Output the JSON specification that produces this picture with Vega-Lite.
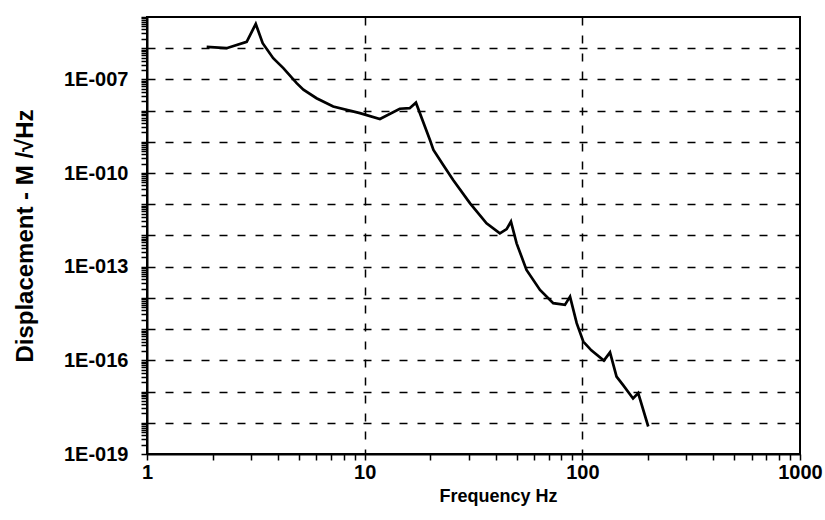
{
  "$schema": "https://vega.github.io/schema/vega-lite/v6.json",
  "width": 653,
  "height": 437,
  "autosize": "none",
  "padding": {"left": 147, "top": 17, "right": 25, "bottom": 66},
  "background": "white",
  "config": {
    "view": {"stroke": "black", "strokeWidth": 2},
    "font": "Liberation Sans"
  },
  "data": {"values": [
    {"f": 1.88, "d": 1.1e-6},
    {"f": 2.32, "d": 1.0e-6},
    {"f": 2.87, "d": 1.6e-6},
    {"f": 3.16, "d": 6.0e-6},
    {"f": 3.40, "d": 1.45e-6},
    {"f": 3.80, "d": 4.8e-7},
    {"f": 4.23, "d": 2.3e-7},
    {"f": 4.87, "d": 7.6e-8},
    {"f": 5.23, "d": 4.7e-8},
    {"f": 6.01, "d": 2.5e-8},
    {"f": 7.17, "d": 1.35e-8},
    {"f": 9.51, "d": 8.3e-9},
    {"f": 11.75, "d": 5.4e-9},
    {"f": 14.5, "d": 1.15e-8},
    {"f": 16.1, "d": 1.2e-8},
    {"f": 17.2, "d": 1.8e-8},
    {"f": 19.95, "d": 1.15e-9},
    {"f": 20.7, "d": 5.5e-10},
    {"f": 22.96, "d": 1.8e-10},
    {"f": 25.5, "d": 6.0e-11},
    {"f": 30.5, "d": 1.07e-11},
    {"f": 36.3, "d": 2.45e-12},
    {"f": 41.8, "d": 1.17e-12},
    {"f": 44.9, "d": 1.6e-12},
    {"f": 47.0, "d": 2.8e-12},
    {"f": 49.9, "d": 5.6e-13},
    {"f": 55.4, "d": 7.9e-14},
    {"f": 63.9, "d": 1.8e-14},
    {"f": 73.5, "d": 6.8e-15},
    {"f": 83.2, "d": 6.0e-15},
    {"f": 87.8, "d": 1.1e-14},
    {"f": 94.2, "d": 1.55e-15},
    {"f": 101, "d": 4.0e-16},
    {"f": 110, "d": 2.1e-16},
    {"f": 125.6, "d": 9.8e-17},
    {"f": 134, "d": 1.8e-16},
    {"f": 143.6, "d": 3.0e-17},
    {"f": 154, "d": 1.6e-17},
    {"f": 171, "d": 6.0e-18},
    {"f": 180.6, "d": 8.9e-18},
    {"f": 200.8, "d": 7.6e-19}
  ]},
  "mark": {"type": "line", "color": "black", "strokeWidth": 2.7},
  "encoding": {
    "x": {
      "field": "f", "type": "quantitative",
      "scale": {"type": "log", "domain": [1, 1000], "nice": false},
      "axis": {
        "title": "Frequency Hz",
        "titleFont": "Liberation Sans", "titleFontSize": 18, "titleFontWeight": "bold", "titleColor": "black",
        "titlePadding": 5,
        "titleX": 351,
        "values": [1, 2, 3, 4, 5, 6, 7, 8, 9, 10, 20, 30, 40, 50, 60, 70, 80, 90, 100, 200, 300, 400, 500, 600, 700, 800, 900, 1000],
        "labelExpr": "indexof([1, 10, 100, 1000], datum.value) >= 0 ? datum.label : ''",
        "labelFont": "Liberation Sans", "labelFontSize": 20, "labelFontWeight": "bold", "labelColor": "black",
        "labelPadding": 2,
        "labelFlush": false,
        "labelOverlap": false,
        "format": "d",
        "domainColor": "black", "domainWidth": 2,
        "ticks": true,
        "tickColor": "black", "tickWidth": 1.5,
        "tickSize": 6,
        "grid": true,
        "gridColor": "black", "gridWidth": 1.5, "gridDash": [8, 10],
        "gridOpacity": {"condition": {"test": "datum.value == 10 || datum.value == 100", "value": 1}, "value": 0}
      }
    },
    "y": {
      "field": "d", "type": "quantitative",
      "scale": {"type": "log", "domain": [1e-19, 1e-5], "nice": false},
      "axis": {
        "title": "Displacement - M /√Hz",
        "titleFont": "Liberation Sans", "titleFontSize": 24, "titleFontWeight": "bold", "titleColor": "black",
        "titlePadding": 26,
        "tickCount": 200,
        "labelExpr": "abs(log(datum.value)/LN10 - round(log(datum.value)/LN10)) < 1e-6 && (round(log(datum.value)/LN10) + 19) % 3 == 0 && round(log(datum.value)/LN10) <= -7 ? '1E-' + slice('000' + toString(-round(log(datum.value)/LN10)), -3) : ''",
        "labelFont": "Liberation Sans", "labelFontSize": 20, "labelFontWeight": "bold", "labelColor": "black",
        "labelPadding": 13,
        "labelFlush": false,
        "labelOverlap": false,
        "domainColor": "black", "domainWidth": 2,
        "ticks": true,
        "tickColor": "black", "tickWidth": 1.5,
        "tickSize": 6,
        "grid": true,
        "gridColor": "black", "gridWidth": 1.5, "gridDash": [8, 10],
        "gridOpacity": {"condition": {"test": "abs(log(datum.value)/LN10 - round(log(datum.value)/LN10)) < 1e-6 && datum.value > 2e-19 && datum.value < 5e-6", "value": 1}, "value": 0}
      }
    }
  }
}
